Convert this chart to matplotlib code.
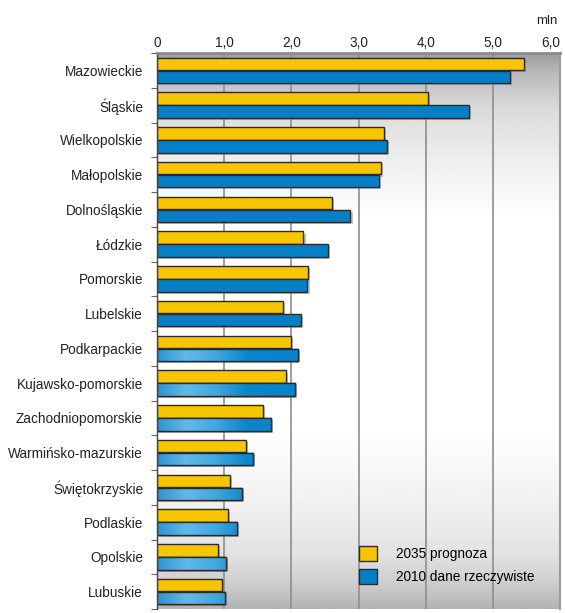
import numpy as np
import matplotlib
matplotlib.use('Agg')
import matplotlib.pyplot as plt
import matplotlib.patheffects as pe
from matplotlib.colors import LinearSegmentedColormap
from matplotlib.patches import Rectangle

# województwa, top to bottom
regions = ["Mazowieckie", "Śląskie", "Wielkopolskie", "Małopolskie", "Dolnośląskie",
           "Łódzkie", "Pomorskie", "Lubelskie", "Podkarpackie", "Kujawsko-pomorskie",
           "Zachodniopomorskie", "Warmińsko-mazurskie", "Świętokrzyskie", "Podlaskie",
           "Opolskie", "Lubuskie"]
prog_2035 = [5.47, 4.04, 3.38, 3.33, 2.61, 2.18, 2.25, 1.87, 1.99, 1.92,
             1.58, 1.32, 1.08, 1.06, 0.91, 0.97]
real_2010 = [5.25, 4.64, 3.42, 3.31, 2.88, 2.54, 2.24, 2.15, 2.10, 2.06,
             1.69, 1.43, 1.27, 1.19, 1.03, 1.01]
xticks = [0, 1, 2, 3, 4, 5, 6]
xticklabels = ["0", "1,0", "2,0", "3,0", "4,0", "5,0", "6,0"]
legend_labels = ["2035 prognoza", "2010 dane rzeczywiste"]

YELLOW = "#f7c600"
BLUE = "#0580c6"
EDGE = "#2a2a2a"

plt.rcParams['font.family'] = ['Liberation Sans', 'DejaVu Sans']

fig = plt.figure(figsize=(5.65, 6.13), dpi=100)
ax = fig.add_axes([157/565, 1 - 609/613, 403/565, 556/613])

n = len(regions)
y = np.arange(n)
h = 0.36
off = 0.185

# background: grey at top and bottom, white in the middle
stops_pos = [0.0, 0.04, 0.1, 0.2, 0.3, 0.68, 0.8, 0.9, 0.96, 1.0]
stops_val = [0.62, 0.74, 0.86, 0.94, 1.0, 1.0, 0.95, 0.89, 0.8, 0.7]
t = np.linspace(0, 1, 300)
g = np.interp(t, stops_pos, stops_val)
bg = np.repeat(g[:, None], 2, axis=1)
ax.imshow(bg, cmap='gray', vmin=0, vmax=1, aspect='auto',
          extent=(0, 6, n - 0.5, -0.5), zorder=0, interpolation='bilinear')

shadow = [pe.SimplePatchShadow(offset=(1.5, -1.5), shadow_rgbFace='#777777', alpha=0.45), pe.Normal()]

ybars = ax.barh(y - off, prog_2035, height=h, color=YELLOW, edgecolor=EDGE, linewidth=1.0, zorder=2)
bbars = ax.barh(y + off, real_2010, height=h, color=BLUE, edgecolor=EDGE, linewidth=1.0, zorder=2)
for b in list(ybars) + list(bbars):
    b.set_path_effects(shadow)

# glossy gradient on the lower blue bars
glow = LinearSegmentedColormap.from_list(
    'glow', [(0.0, "#2f93d2"), (0.07, "#62b9e9"), (0.14, "#45a8e0"), (0.22, "#0a86cb"), (1.0, "#0578c0")])
grad = np.linspace(0, 1, 256)[None, :]
for i in range(8, n):
    b = bbars[i]
    w = real_2010[i]
    im = ax.imshow(grad, cmap=glow, aspect='auto', extent=(0, 6, i + off + h/2, i + off - h/2),
                   zorder=2.1, interpolation='bilinear')
    im.set_clip_path(b)
    ax.add_patch(Rectangle((0, i + off - h/2), w, h, facecolor='none', edgecolor=EDGE,
                           linewidth=1.0, zorder=2.2))

ax.set_xlim(0, 6)
ax.set_ylim(n - 0.5, -0.5)

ax.set_axisbelow(True)
ax.xaxis.grid(True, color='#8e8e8e', linewidth=1.2)
ax.xaxis.tick_top()
ax.set_xticks(xticks)
ax.set_xticklabels(xticklabels, fontsize=9.8, color='#222222')
ax.tick_params(axis='x', length=0, pad=2.5)
# last label pulled inside so it is not cut at the edge
ax.get_xticklabels()[-1].set_horizontalalignment('right')

ax.set_yticks(y)
ax.set_yticklabels(regions, fontsize=9.8, color='#222222')
ax.set_yticks(np.arange(n + 1) - 0.5, minor=True)
ax.tick_params(axis='y', which='major', length=0, pad=10)
ax.tick_params(axis='y', which='minor', length=4, color='#666666', width=0.8)

ax.spines['top'].set_color('#8a8a8a')
ax.spines['top'].set_linewidth(2)
ax.spines['right'].set_color('#9a9a9a')
ax.spines['right'].set_linewidth(1.5)
ax.spines['left'].set_color('#444444')
ax.spines['left'].set_linewidth(1)
ax.spines['bottom'].set_visible(False)

fig.text(547/565, 1 - 21/613, "mln", fontsize=9.5, ha='center', va='center', color='#222222')

handles = [Rectangle((0, 0), 1, 1, facecolor=YELLOW, edgecolor=EDGE, linewidth=1.0),
           Rectangle((0, 0), 1, 1, facecolor=BLUE, edgecolor=EDGE, linewidth=1.0)]
ax.legend(handles, legend_labels, loc='upper left', bbox_to_anchor=(202/403, (609 - 546)/556),
          frameon=False, fontsize=9.8, handlelength=1.3, handleheight=1.3,
          handletextpad=1.4, labelspacing=0.6, borderpad=0, borderaxespad=0)

fig.savefig('out.png', dpi=100)
